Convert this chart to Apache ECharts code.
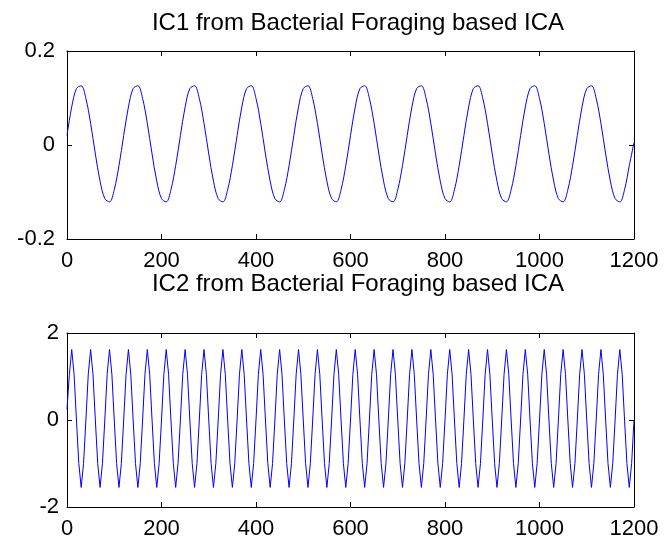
<!DOCTYPE html>
<html>
<head>
<meta charset="utf-8">
<script src="https://cdn.jsdelivr.net/npm/echarts@6/dist/echarts.min.js"></script>
<style>
  html, body { margin: 0; padding: 0; background: #fff; }
  #chart { width: 664px; height: 542px; }
</style>
</head>
<body>
<div id="chart"></div>
<script>
// Panel titles
const titles = [
  'IC1 from Bacterial Foraging based ICA',
  'IC2 from Bacterial Foraging based ICA'
];

// Shared sample axis
const xTicks = [0, 200, 400, 600, 800, 1000, 1200];

// y tick values for each panel
const ic1YTicks = [-0.2, 0, 0.2];
const ic2YTicks = [-2, 0, 2];

// IC1: one value every 10 samples (0 .. 1200)
const ic1Step = 10;
const ic1 = [
  0.020, 0.081, 0.120, 0.126, 0.099, 0.046, -0.019, -0.077, -0.114, -0.121, -0.095, -0.044,
  0.020, 0.081, 0.120, 0.126, 0.099, 0.046, -0.019, -0.077, -0.114, -0.121, -0.095, -0.044,
  0.020, 0.081, 0.120, 0.126, 0.099, 0.046, -0.019, -0.077, -0.114, -0.121, -0.095, -0.044,
  0.020, 0.081, 0.120, 0.126, 0.099, 0.046, -0.019, -0.077, -0.114, -0.121, -0.095, -0.044,
  0.020, 0.081, 0.120, 0.126, 0.099, 0.046, -0.019, -0.077, -0.114, -0.121, -0.095, -0.044,
  0.020, 0.081, 0.120, 0.126, 0.099, 0.046, -0.019, -0.077, -0.114, -0.121, -0.095, -0.044,
  0.020, 0.081, 0.120, 0.126, 0.099, 0.046, -0.019, -0.077, -0.114, -0.121, -0.095, -0.044,
  0.020, 0.081, 0.120, 0.126, 0.099, 0.046, -0.019, -0.077, -0.114, -0.121, -0.095, -0.044,
  0.020, 0.081, 0.120, 0.126, 0.099, 0.046, -0.019, -0.077, -0.114, -0.121, -0.095, -0.044,
  0.020, 0.081, 0.120, 0.126, 0.099, 0.046, -0.019, -0.077, -0.114, -0.121, -0.095, -0.044,
  0.005
];

// IC2: one value every 5 samples (0 .. 1200)
const ic2Step = 5;
const ic2 = [
  0.25, 1.05, 1.62, 1.05, 0.00, -1.00, -1.55, -1.00,
  0.00, 1.05, 1.62, 1.05, 0.00, -1.00, -1.55, -1.00,
  0.00, 1.05, 1.62, 1.05, 0.00, -1.00, -1.55, -1.00,
  0.00, 1.05, 1.62, 1.05, 0.00, -1.00, -1.55, -1.00,
  0.00, 1.05, 1.62, 1.05, 0.00, -1.00, -1.55, -1.00,
  0.00, 1.05, 1.62, 1.05, 0.00, -1.00, -1.55, -1.00,
  0.00, 1.05, 1.62, 1.05, 0.00, -1.00, -1.55, -1.00,
  0.00, 1.05, 1.62, 1.05, 0.00, -1.00, -1.55, -1.00,
  0.00, 1.05, 1.62, 1.05, 0.00, -1.00, -1.55, -1.00,
  0.00, 1.05, 1.62, 1.05, 0.00, -1.00, -1.55, -1.00,
  0.00, 1.05, 1.62, 1.05, 0.00, -1.00, -1.55, -1.00,
  0.00, 1.05, 1.62, 1.05, 0.00, -1.00, -1.55, -1.00,
  0.00, 1.05, 1.62, 1.05, 0.00, -1.00, -1.55, -1.00,
  0.00, 1.05, 1.62, 1.05, 0.00, -1.00, -1.55, -1.00,
  0.00, 1.05, 1.62, 1.05, 0.00, -1.00, -1.55, -1.00,
  0.00, 1.05, 1.62, 1.05, 0.00, -1.00, -1.55, -1.00,
  0.00, 1.05, 1.62, 1.05, 0.00, -1.00, -1.55, -1.00,
  0.00, 1.05, 1.62, 1.05, 0.00, -1.00, -1.55, -1.00,
  0.00, 1.05, 1.62, 1.05, 0.00, -1.00, -1.55, -1.00,
  0.00, 1.05, 1.62, 1.05, 0.00, -1.00, -1.55, -1.00,
  0.00, 1.05, 1.62, 1.05, 0.00, -1.00, -1.55, -1.00,
  0.00, 1.05, 1.62, 1.05, 0.00, -1.00, -1.55, -1.00,
  0.00, 1.05, 1.62, 1.05, 0.00, -1.00, -1.55, -1.00,
  0.00, 1.05, 1.62, 1.05, 0.00, -1.00, -1.55, -1.00,
  0.00, 1.05, 1.62, 1.05, 0.00, -1.00, -1.55, -1.00,
  0.00, 1.05, 1.62, 1.05, 0.00, -1.00, -1.55, -1.00,
  0.00, 1.05, 1.62, 1.05, 0.00, -1.00, -1.55, -1.00,
  0.00, 1.05, 1.62, 1.05, 0.00, -1.00, -1.55, -1.00,
  0.00, 1.05, 1.62, 1.05, 0.00, -1.00, -1.55, -1.00,
  0.00, 1.05, 1.62, 1.05, 0.00, -1.00, -1.55, -1.00,
  0.00
];

const FONT = "'Liberation Sans', Arial, Helvetica, sans-serif";
const BLACK = '#000000';
const LINE_BLUE = '#0000ff';

function toPairs(values, step) {
  return values.map((v, i) => [i * step, v]);
}

// plain numbers, no thousands separator
const plainLabel = v => String(v);

// x axis: bottom one carries labels, top one only mirrors the inward ticks
function xAxisFor(gridIndex, position, withLabels) {
  return {
    type: 'value',
    gridIndex,
    position,
    min: xTicks[0],
    max: xTicks[xTicks.length - 1],
    interval: xTicks[1] - xTicks[0],
    axisLine: { show: true, onZero: false, lineStyle: { color: BLACK, width: 1 } },
    axisTick: { show: true, inside: true, length: 5, lineStyle: { color: BLACK } },
    axisLabel: {
      show: withLabels, color: BLACK, fontSize: 22, fontFamily: FONT, margin: 11,
      formatter: plainLabel
    },
    splitLine: { show: false }
  };
}

function yAxisFor(gridIndex, position, ticks, withLabels, margin) {
  return {
    type: 'value',
    gridIndex,
    position,
    min: ticks[0],
    max: ticks[ticks.length - 1],
    interval: ticks[1] - ticks[0],
    axisLine: { show: true, onZero: false, lineStyle: { color: BLACK, width: 1 } },
    axisTick: { show: true, inside: true, length: 5, lineStyle: { color: BLACK } },
    axisLabel: {
      show: withLabels, color: BLACK, fontSize: 22, fontFamily: FONT, margin,
      formatter: plainLabel
    },
    splitLine: { show: false }
  };
}

const chart = echarts.init(document.getElementById('chart'), null, { renderer: 'canvas' });

chart.setOption({
  animation: false,
  backgroundColor: '#ffffff',
  title: [
    {
      text: titles[0], left: 353, top: 6, textAlign: 'center',
      textStyle: { color: BLACK, fontSize: 24, fontWeight: 'normal', fontFamily: FONT }
    },
    {
      text: titles[1], left: 353, top: 267, textAlign: 'center',
      textStyle: { color: BLACK, fontSize: 24, fontWeight: 'normal', fontFamily: FONT }
    }
  ],
  grid: [
    { left: 67, top: 51, width: 567, height: 188, show: false },
    { left: 67, top: 333, width: 567, height: 174, show: false }
  ],
  xAxis: [
    xAxisFor(0, 'bottom', true),
    xAxisFor(0, 'top', false),
    xAxisFor(1, 'bottom', true),
    xAxisFor(1, 'top', false)
  ],
  yAxis: [
    yAxisFor(0, 'left', ic1YTicks, true, 12),
    yAxisFor(0, 'right', ic1YTicks, false, 8),
    yAxisFor(1, 'left', ic2YTicks, true, 8),
    yAxisFor(1, 'right', ic2YTicks, false, 8)
  ],
  series: [
    {
      type: 'line', xAxisIndex: 0, yAxisIndex: 0,
      data: toPairs(ic1, ic1Step),
      showSymbol: false, smooth: 0.35, sampling: 'none',
      lineStyle: { color: LINE_BLUE, width: 1 }
    },
    {
      type: 'line', xAxisIndex: 2, yAxisIndex: 2,
      data: toPairs(ic2, ic2Step),
      showSymbol: false, smooth: false, sampling: 'none',
      lineStyle: { color: LINE_BLUE, width: 1 }
    }
  ]
});
</script>
</body>
</html>
